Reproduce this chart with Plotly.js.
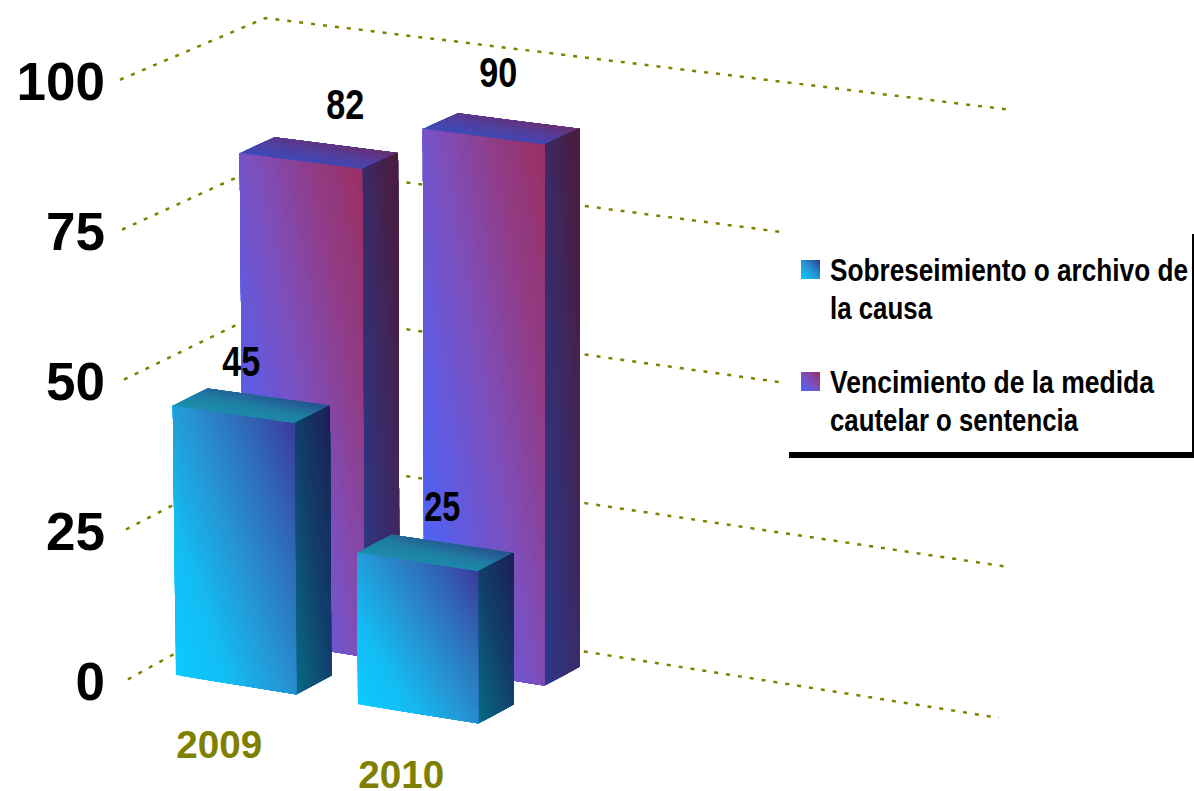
<!DOCTYPE html>
<html><head><meta charset="utf-8"><script src="https://cdn.plot.ly/plotly-3.0.1.min.js"></script>
<style>html,body{margin:0;padding:0;background:#fff}#c{width:1194px;height:791px}</style></head>
<body><div id="c"></div>
<script>
const years=['2009','2010'];
const sobreseimiento=[45,25];
const vencimiento=[82,90];
const zTicks=[0,25,50,75,100];
const seriesNames=[['Sobreseimiento o archivo de','la causa'],['Vencimiento de la medida','cautelar o sentencia']];
// oblique projection: category (c), depth (d), value (v) -> cartesian axis units
const catPx=182, depthPx=145, valPx=6, plotL=108, originPx=125, zeroPx=681;
function proj(c,d,v){
  const A=c*catPx,B=d*depthPx,xs=0.16-0.036*v/100,ds=0.55-0.116*v/100;
  const lean=0.08*v*Math.max(0,1-(A+B)/355);
  return [(A+B-lean)/catPx, v-(A*xs-B*ds)/valPx];
}
const gridEnd={0:4.005,25:4.05,50:3.99,75:3.99,100:4.07};
const barW=121/182, barD=34.5/145;
const barXFront=[31/182,213/182], barXBack=[31/182,211/182], dFront=19.9/145, dBack=88/145;
const palA={f:['#0BCBFF','#13BCF3','#2695D3','#2F6BB8','#3B3A9E'],t:['#1B8FAE','#1F7EA4','#28508C'],s:['#066A85','#123F6C','#1A1F55']};
const palB={f:['#4466FF','#5C5CE4','#7C50BE','#8F3D8A','#9B2F62'],t:['#3A4CBA','#4F3FA0','#6B2F70'],s:['#2B3A8A','#3B2A66','#4D1A38']};
function rgb(c){return [1,3,5].map(i=>parseInt(c.slice(i,i+2),16));}
function ramp(st,t){
  const n=st.length-1,p=Math.min(n-1e-9,t*n),k=Math.floor(p),f=p-k,A=rgb(st[k]),B=rgb(st[k+1]);
  return 'rgb('+A.map((v,i)=>Math.round(v+(B[i]-v)*f)).join(',')+')';
}
const traces=[];
zTicks.forEach(t=>{
  const pts=[proj(0,0.02,t),proj(0,1,t),proj(gridEnd[t],1,t)];
  traces.push({type:'scatter',mode:'lines',x:pts.map(p=>p[0]),y:pts.map(p=>p[1]),
    line:{color:'#808000',width:2.5,dash:'4px 8px'},hoverinfo:'skip'});
});
// clip the unit square to a*u+(1-a)*w >= T
function clipSquare(a,T){
  const sq=[[0,0],[1,0],[1,1],[0,1]],out=[],f=q=>a*q[0]+(1-a)*q[1]-T;
  sq.forEach((q,i)=>{
    const r=sq[(i+1)%4],fq=f(q),fr=f(r);
    if(fq>=0)out.push(q);
    if((fq>=0)!==(fr>=0)){const s=fq/(fq-fr);out.push([q[0]+(r[0]-q[0])*s,q[1]+(r[1]-q[1])*s]);}
  });
  return out;
}
// a face p0 (low-left), p1 (low-right), p2 (top-right), p3 (top-left): gradient painted back to front
function face(p,stops,N,a){
  const bil=(u,w)=>[0,1].map(i=>(1-u)*(1-w)*p[0][i]+u*(1-w)*p[1][i]+u*w*p[2][i]+(1-u)*w*p[3][i]);
  for(let k=0;k<N;k++){
    const pts=clipSquare(a,k/N).map(q=>bil(q[0],q[1]));pts.push(pts[0]);
    traces.push({type:'scatter',mode:'lines',x:pts.map(q=>q[0]),y:pts.map(q=>q[1]),fill:'toself',
      fillcolor:ramp(stops,(k+0.5)/N),line:{width:0},hoverinfo:'skip'});
  }
}
function bar(c,d,v,pal){
  const c1=c+barW,d1=d+barD;
  face([proj(c,d,0),proj(c1,d,0),proj(c1,d,v),proj(c,d,v)],pal.f,40,0.55);
  face([proj(c,d,v),proj(c1,d,v),proj(c1,d1,v),proj(c,d1,v)],pal.t,14,0.25);
  face([proj(c1,d,0),proj(c1,d1,0),proj(c1,d1,v),proj(c1,d,v)],pal.s,18,0.5);
}
years.forEach((y,i)=>bar(barXBack[i],dBack,vencimiento[i],palB));
years.forEach((y,i)=>bar(barXFront[i],dFront,sobreseimiento[i],palA));
const W=1194,H=791;
const ax=v=>(v-originPx)/catPx, ay=v=>(zeroPx-v)/valPx;
// legend panel and its swatches, on top of the gridlines
const panel=[[786,225],[1194,225],[1194,458],[786,458],[786,225]];
traces.push({type:'scatter',mode:'lines',x:panel.map(q=>ax(q[0])),y:panel.map(q=>ay(q[1])),fill:'toself',fillcolor:'#fff',line:{width:0},hoverinfo:'skip'});
function swatch(x,y,st){face([[ax(x),ay(y+19)],[ax(x+19),ay(y+19)],[ax(x+19),ay(y)],[ax(x),ay(y)]],st,16,0.5);}
swatch(801,260,['#0BCBFF','#2695D3','#2A3A8E']);
swatch(801,372,['#4466FF','#7C50BE','#9B2F62']);
const px=v=>(v-plotL)/(W-plotL), py=v=>1-v/H;
const fam='"Liberation Sans",Arial,sans-serif';
function label(x,y,text,size,color,len,anchor){
  return {xref:'paper',yref:'paper',x:px(x),y:py(y),text:text,showarrow:false,xanchor:anchor||'center',yanchor:'middle',
    align:anchor||'center',font:{family:fam,size:size,color:color,weight:700},_len:len};
}
const anns=[
  label(219,745,years[0],38,'#808000',86),
  label(401,775,years[1],38,'#808000',86),
  label(241,361,String(sobreseimiento[0]),42,'#000',38),
  label(442,506,String(sobreseimiento[1]),42,'#000',36),
  label(345,104,String(vencimiento[0]),42,'#000',38),
  label(498,72,String(vencimiento[1]),42,'#000',38),
  label(828,270,seriesNames[0][0],32,'#000',358,'left'),
  label(828,308,seriesNames[0][1],32,'#000',102,'left'),
  label(828,382,seriesNames[1][0],32,'#000',324,'left'),
  label(828,420,seriesNames[1][1],32,'#000',248,'left')
];
const lens=anns.map(a=>a._len);anns.forEach(a=>delete a._len);
const layout={width:W,height:H,margin:{l:plotL,r:0,t:0,b:0},paper_bgcolor:'#fff',plot_bgcolor:'rgba(0,0,0,0)',showlegend:false,hovermode:false,
  xaxis:{range:[ax(plotL),ax(W)],visible:false,fixedrange:true},
  yaxis:{range:[ay(H),ay(0)],tickvals:zTicks,ticktext:zTicks.map(String),showgrid:false,zeroline:false,showline:false,ticks:'',ticklabelstandoff:2,
    tickfont:{family:fam,size:53,color:'#000',weight:700},fixedrange:true},
  shapes:[
    {type:'rect',xref:'paper',yref:'paper',x0:px(789),x1:px(W),y0:py(458),y1:py(452),fillcolor:'#000',line:{width:0}},
    {type:'rect',xref:'paper',yref:'paper',x0:px(1192),x1:px(W),y0:py(458),y1:py(234),fillcolor:'#000',line:{width:0}}
  ],
  annotations:anns
};
Plotly.newPlot('c',traces,layout,{displayModeBar:false,staticPlot:true}).then(gd=>{
  // the reference lettering is condensed: fit each text to its measured width
  gd.querySelectorAll('.annotation-text').forEach((t,i)=>{
    t.setAttribute('textLength',lens[i]);t.setAttribute('lengthAdjust','spacingAndGlyphs');
  });
});
</script></body></html>
